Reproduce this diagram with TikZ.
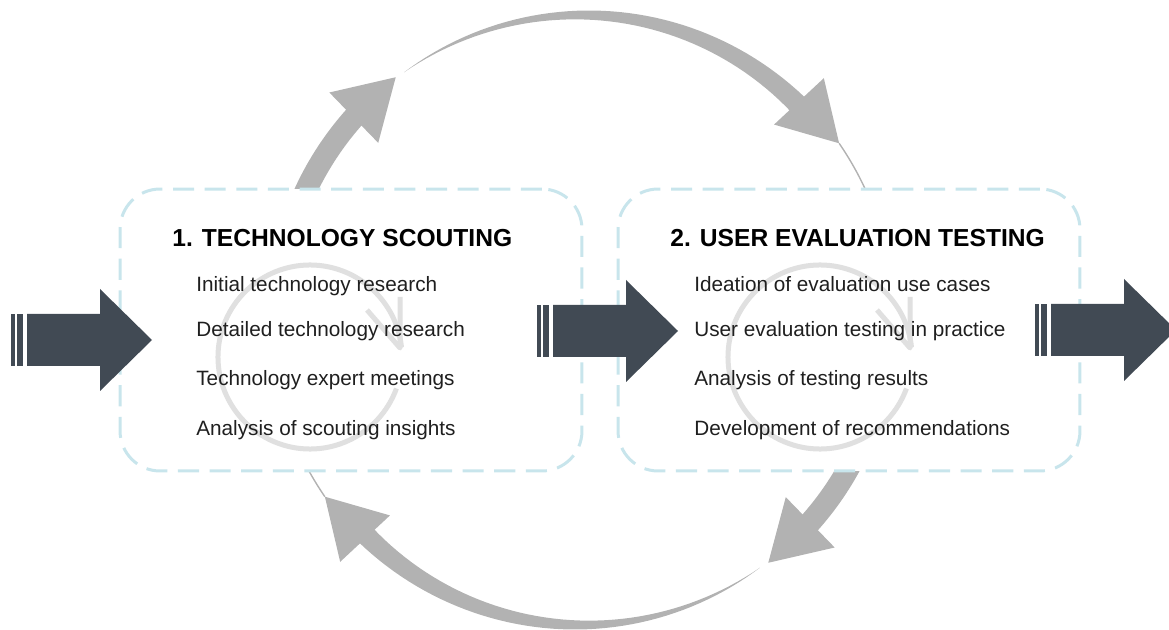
\documentclass[tikz,border=0pt]{standalone}
\usepackage{fontspec}
\setmainfont{Liberation Sans}
\definecolor{loopgray}{RGB}{178,178,178}
\definecolor{ringgray}{RGB}{224,224,224}
\definecolor{boxblue}{RGB}{200,229,236}
\definecolor{slate}{RGB}{65,74,84}
\tikzset{
  phase/.style={draw=boxblue, line width=1.7pt, dash pattern=on 12pt off 6pt,
    rounded corners=0.8cm, fill=white, minimum width=9.24cm, minimum height=5.64cm},
  heading/.style={anchor=base west, inner sep=0pt, font=\fontsize{14}{16}\selectfont\bfseries},
  task/.style={anchor=base west, inner sep=0pt, font=\fontsize{11.8}{14}\selectfont, text=black!88},
  declare function={taper(\t)=20*(125.7-\t)/80.7;}
}
\begin{document}
\begin{tikzpicture}[x=0.02cm, y=0.02cm, line join=round]
    \useasboundingbox (0,0) rectangle (1169,629);
    % outer loop: upper half, then the same turned round
    \coordinate (c) at (582,309);
    \foreach \r in {0,180}{
      \begin{scope}[shift={(c)}, rotate=\r]
        \draw[loopgray, line width=0.44cm] (168:305) arc[start angle=168, end angle=137, radius=305];
        \fill[loopgray] (138:340) -- (127.5:306) -- (139:270) -- cycle;
        \fill[loopgray] plot[domain=125.7:45, samples=50] ({(305+taper(\x)/2)*cos(\x)}, {(305+taper(\x)/2)*sin(\x)})
            -- plot[domain=45:125.7, samples=50] ({(305-taper(\x)/2)*cos(\x)}, {(305-taper(\x)/2)*sin(\x)}) -- cycle;
        \fill[loopgray] (45:342) -- (34.5:312) -- (45.5:274) -- cycle;
        \draw[loopgray, line width=0.8pt] (34.5:312) arc[start angle=34.5, end angle=20, radius=312];
      \end{scope}
    }
    \node[phase] (scout) at (351,299) {};
    \node[phase] (test) at (849,299) {};
    % faint cycle marks behind the lists
    \foreach \cx in {310,820}{
      \draw[ringgray, line width=0.1cm] (\cx,272) ++(-20:92) arc[start angle=-20, end angle=-354, radius=92];
      \draw[ringgray, line width=0.1cm] (\cx+57,319) -- (\cx+90,281) -- (\cx+90,332);
    }
    \node[heading] (scouthead) at (172,382) {1. TECHNOLOGY SCOUTING};
    \node[heading] (testhead) at (670,382) {2. USER EVALUATION TESTING};
    \foreach \y/\t in {337/Initial technology research, 292/Detailed technology research,
        243/Technology expert meetings, 194/Analysis of scouting insights}
      \node[task] (scout\y) at (196,\y) {\t};
    \foreach \y/\t in {337/Ideation of evaluation use cases, 292/User evaluation testing in practice,
        243/Analysis of testing results, 194/Development of recommendations}
      \node[task] (test\y) at (694,\y) {\t};
    % flow arrows with their stripes
    \foreach \ax/\ay in {11/289, 537/298, 1035/299}{
      \fill[slate] (\ax,\ay-26) rectangle (\ax+4,\ay+26);
      \fill[slate] (\ax+6,\ay-26) rectangle (\ax+12,\ay+26);
      \fill[slate] (\ax+16,\ay-26) -- (\ax+89,\ay-26) -- (\ax+89,\ay-51) -- (\ax+141,\ay)
        -- (\ax+89,\ay+51) -- (\ax+89,\ay+26) -- (\ax+16,\ay+26) -- cycle;
    }
\end{tikzpicture}
\end{document}
